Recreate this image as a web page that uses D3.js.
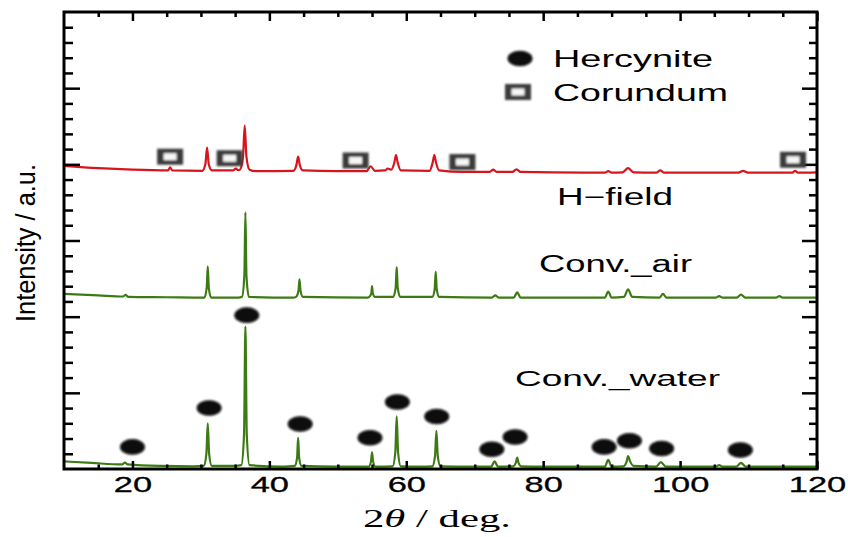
<!DOCTYPE html>
<html>
<head>
<meta charset="utf-8">
<script src="https://cdn.jsdelivr.net/npm/d3@7"></script>
<style>
    body { margin: 0; background: #fff; }
</style>
</head>
<body>
<svg id="xrd_svg" width="848" height="537" font-family="Liberation Sans, Arial, sans-serif"></svg>
<script>

// ---- data ----
const X_TICKS = [20, 40, 60, 80, 100, 120];
const X_TICK_LABELS = ["20", "40", "60", "80", "100", "120"];

const SERIES_NAMES = ["H\u2212field", "Conv._air", "Conv._water"];
const SERIES_COLORS = ["#d8141c", "#3c7b14", "#3c7b14"];

// [2theta, intensity (a.u., offset)]
const H_FIELD = [
    [10, 3.98], [15, 3.95], [20, 3.93], [25.2, 3.92], [25.5, 3.96], [25.8, 3.92],
    [30.2, 3.915], [30.65, 4.0], [30.9, 4.22], [31.15, 4.0], [31.6, 3.92],
    [34.7, 3.92], [35.1, 3.945], [35.4, 3.925], [35.7, 3.93], [36.15, 4.1], [36.4, 4.51], [36.65, 4.1], [37.1, 3.93],
    [38, 3.91], [43.5, 3.915], [43.95, 3.99], [44.2, 4.10], [44.45, 3.99], [44.9, 3.92],
    [50, 3.91], [54.2, 3.91], [54.8, 3.975], [55.4, 3.915], [56.9, 3.92], [57.3, 3.945], [57.6, 3.935],
    [57.8, 3.93], [58.25, 4.02], [58.5, 4.12], [58.75, 4.02], [59.2, 3.92],
    [63.4, 3.915], [63.85, 4.02], [64.1, 4.12], [64.35, 4.02], [64.8, 3.92],
    [68.2, 3.90], [72.2, 3.90], [72.7, 3.93], [73.2, 3.90], [75.5, 3.90], [76.1, 3.935], [76.7, 3.90],
    [86, 3.89], [89.0, 3.89], [89.5, 3.91], [90.0, 3.89], [91.6, 3.895], [92.4, 3.95], [93.2, 3.895],
    [96.5, 3.89], [97.1, 3.92], [97.7, 3.89], [104, 3.89], [108.5, 3.89], [109.2, 3.915], [109.9, 3.89],
    [116.4, 3.89], [116.8, 3.915], [117.2, 3.89], [120, 3.895]
];

const CONV_AIR = [
    [10, 2.30], [15, 2.28], [18.6, 2.265], [19, 2.285], [19.4, 2.26], [25, 2.255],
    [30.5, 2.25], [30.85, 2.38], [31.0, 2.66], [31.15, 2.38], [31.5, 2.25],
    [35.5, 2.25], [36.0, 2.26], [36.35, 2.55], [36.5, 3.37], [36.65, 2.55], [37.0, 2.26],
    [43.5, 2.25], [43.9, 2.26], [44.25, 2.34], [44.4, 2.49], [44.55, 2.34], [44.9, 2.26],
    [54.3, 2.25], [54.6, 2.26], [54.9, 2.31], [55.0, 2.40], [55.1, 2.31], [55.4, 2.26],
    [58.1, 2.26], [58.45, 2.38], [58.6, 2.65], [58.75, 2.38], [59.1, 2.26],
    [63.8, 2.26], [64.15, 2.36], [64.3, 2.59], [64.45, 2.36], [64.8, 2.26],
    [72.5, 2.25], [73.0, 2.28], [73.5, 2.25], [75.7, 2.25], [76.2, 2.32], [76.7, 2.25],
    [85, 2.25], [89.0, 2.25], [89.5, 2.33], [90.0, 2.25], [91.8, 2.26], [92.4, 2.36], [93.0, 2.26],
    [97.0, 2.25], [97.5, 2.30], [98.0, 2.25], [105.2, 2.25], [105.7, 2.27], [106.2, 2.25],
    [108.3, 2.25], [108.9, 2.29], [109.5, 2.25], [114, 2.25], [114.5, 2.27], [115, 2.25], [120, 2.25]
];

const CONV_WATER = [
    [10, 0.10], [14, 0.08], [18.5, 0.06], [18.9, 0.085], [19.3, 0.06], [24, 0.04], [29, 0.035],
    [30.4, 0.04], [30.8, 0.2], [31.0, 0.60], [31.2, 0.2], [31.6, 0.04],
    [35, 0.04], [35.9, 0.05], [36.3, 0.45], [36.5, 1.87], [36.7, 0.45], [37.1, 0.05],
    [42, 0.03], [43.7, 0.04], [44.05, 0.15], [44.2, 0.41], [44.35, 0.15], [44.7, 0.04],
    [50, 0.03], [54.5, 0.03], [54.85, 0.1], [55.0, 0.22], [55.15, 0.1], [55.5, 0.03],
    [58.0, 0.035], [58.4, 0.22], [58.6, 0.69], [58.8, 0.22], [59.2, 0.035],
    [62, 0.03], [63.8, 0.035], [64.2, 0.17], [64.4, 0.50], [64.6, 0.17], [65.0, 0.035],
    [70, 0.03], [72.4, 0.03], [72.9, 0.10], [73.4, 0.03],
    [75.6, 0.035], [76.0, 0.08], [76.2, 0.15], [76.4, 0.08], [76.8, 0.035],
    [80, 0.03], [86, 0.03], [89.0, 0.03], [89.5, 0.12], [90.0, 0.03],
    [91.7, 0.035], [92.2, 0.10], [92.4, 0.17], [92.7, 0.10], [93.2, 0.04],
    [96.5, 0.03], [97.2, 0.09], [97.9, 0.03], [104, 0.03], [105.2, 0.03], [105.7, 0.05], [106.2, 0.03],
    [108.2, 0.03], [108.9, 0.08], [109.6, 0.03], [114, 0.03], [120, 0.03]
];

// phase markers
const HERCYNITE_X = [20.0, 31.2, 36.7, 44.5, 54.7, 58.7, 64.45, 72.5, 75.9, 88.9, 92.6, 97.3, 108.8];
const HERCYNITE_Y = [0.29, 0.80, 2.02, 0.59, 0.41, 0.88, 0.69, 0.26, 0.42, 0.29, 0.37, 0.27, 0.25];
const CORUNDUM_X = [25.5, 34.2, 52.6, 68.2, 116.5];
const CORUNDUM_Y = [4.10, 4.08, 4.05, 4.03, 4.06];

const LEGEND_NAMES = ["Hercynite", "Corundum"];


make_chart = function () {

    const svg = d3.select("#xrd_svg");

    x = d3.scaleLinear().domain([10, 120]).range([64, 817]);
    y = d3.scaleLinear().domain([0, 6]).range([469, 12]);

    const defs = svg.append("defs");
    defs.append("filter")
        .attr("id", "soft")
        .attr("x", "-50%").attr("y", "-50%").attr("width", "200%").attr("height", "200%")
        .append("feGaussianBlur")
        .attr("stdDeviation", 1.2);

    // traces
    line = d3.line()
        .curve(d3.curveMonotoneX)
        .x(d => x(d[0]))
        .y(d => y(d[1]));

    svg.append("g")
        .selectAll("path")
        .data([H_FIELD, CONV_AIR, CONV_WATER])
        .join("path")
        .attr("fill", "none")
        .attr("stroke", (d, i) => SERIES_COLORS[i])
        .attr("stroke-width", 2.2)
        .attr("stroke-linejoin", "round")
        .attr("d", line);

    make_axes(svg);
    make_markers(svg);
    make_texts(svg);
}


make_axes = function (svg) {
    const x_minor = d3.range(15, 120, 5).filter(v => v % 20 != 0);
    const y_minor = d3.range(0.2, 6, 0.2).filter(v => Math.abs(v - Math.round(v)) > 0.01);
    const y_major = [1, 2, 3, 4, 5];

    const sides = [
        { axis: d3.axisBottom, scale: x, minor: x_minor, major: X_TICKS, t: `translate(0,${y(0)})`, ms: 4.5, MS: 8 },
        { axis: d3.axisTop, scale: x, minor: x_minor, major: X_TICKS, t: `translate(0,${y(6)})`, ms: 5, MS: 9 },
        { axis: d3.axisLeft, scale: y, minor: y_minor, major: y_major, t: `translate(${x(10)},0)`, ms: 9, MS: 16 },
        { axis: d3.axisRight, scale: y, minor: y_minor, major: y_major, t: `translate(${x(120)},0)`, ms: 8, MS: 15 }
    ];

    sides.forEach(s => {
        [[s.minor, s.ms], [s.major, s.MS]].forEach(([vals, len]) => {
            svg.append("g")
                .attr("transform", s.t)
                .call(s.axis(s.scale).tickValues(vals).tickSize(-len).tickFormat(""))
                .call(g => g.select(".domain").remove())
                .call(g => g.selectAll(".tick line").attr("stroke", "#000").attr("stroke-width", 2.5));
        });
    });

    // bottom labels
    svg.append("g")
        .attr("transform", `translate(0,${y(0)})`)
        .call(d3.axisBottom(x).tickValues(X_TICKS).tickSize(0).tickPadding(8)
            .tickFormat((d, i) => X_TICK_LABELS[i]))
        .call(g => g.select(".domain").remove())
        .call(g => g.selectAll(".tick text")
            .attr("font-family", "Liberation Sans, Arial, sans-serif")
            .attr("font-size", 21.5)
            .attr("fill", "#000")
            .attr("stroke", "#000")
            .attr("stroke-width", 0.3)
            .attr("transform", "scale(1.6,1)"));

    // frame
    svg.append("rect")
        .attr("x", x(10))
        .attr("y", y(6))
        .attr("width", x(120) - x(10))
        .attr("height", y(0) - y(6))
        .attr("fill", "none")
        .attr("stroke", "#000")
        .attr("stroke-width", 3);
}


draw_hercynite = function (g, cx, cy) {
    g.append("ellipse")
        .attr("cx", cx).attr("cy", cy)
        .attr("rx", 12.5).attr("ry", 7.8)
        .attr("fill", "#080808")
        .attr("filter", "url(#soft)");
}

draw_corundum = function (g, cx, cy) {
    const s = g.append("g").attr("filter", "url(#soft)");
    s.append("rect")
        .attr("x", cx - 13).attr("y", cy - 8)
        .attr("width", 26).attr("height", 16)
        .attr("fill", "#3a3a3a");
    s.append("rect")
        .attr("x", cx - 6.5).attr("y", cy - 3.5)
        .attr("width", 13).attr("height", 7)
        .attr("fill", "#f6f6f6");
}

make_markers = function (svg) {
    const g = svg.append("g");
    HERCYNITE_X.forEach((v, i) => draw_hercynite(g, x(v), y(HERCYNITE_Y[i])));
    CORUNDUM_X.forEach((v, i) => draw_corundum(g, x(v), y(CORUNDUM_Y[i])));

    // legend
    draw_hercynite(g, 520, 58.5);
    draw_corundum(g, 518, 92);
}


stretch_text = function (g, str, px, py, size, w) {
    return g.append("text")
        .attr("x", px)
        .attr("y", py)
        .attr("font-size", size)
        .attr("fill", "#000")
        .attr("textLength", w)
        .attr("lengthAdjust", "spacingAndGlyphs")
        .text(str);
}

make_texts = function (svg) {
    const g = svg.append("g");

    stretch_text(g, LEGEND_NAMES[0], 553, 66.5, 24, 160);
    stretch_text(g, LEGEND_NAMES[1], 553, 101, 24, 175);

    stretch_text(g, SERIES_NAMES[0], 557, 205, 23, 116);
    stretch_text(g, SERIES_NAMES[1], 539, 271.5, 23, 153);
    stretch_text(g, SERIES_NAMES[2], 515, 386, 22.5, 205);

    // y title
    g.append("text")
        .attr("transform", "translate(35,243) rotate(-90)")
        .attr("text-anchor", "middle")
        .attr("font-size", 27)
        .attr("textLength", 158)
        .attr("lengthAdjust", "spacingAndGlyphs")
        .text("Intensity / a.u.");

    // x title
    const xt = g.append("text")
        .attr("x", 363)
        .attr("y", 527)
        .attr("font-family", "Liberation Serif, DejaVu Serif, serif")
        .attr("font-size", 26)
        .attr("textLength", 148)
        .attr("lengthAdjust", "spacingAndGlyphs");
    xt.append("tspan").text("2");
    xt.append("tspan").attr("font-style", "italic").text("\u03b8");
    xt.append("tspan").text(" / deg.");
}


make_chart();

</script>
</body>
</html>
